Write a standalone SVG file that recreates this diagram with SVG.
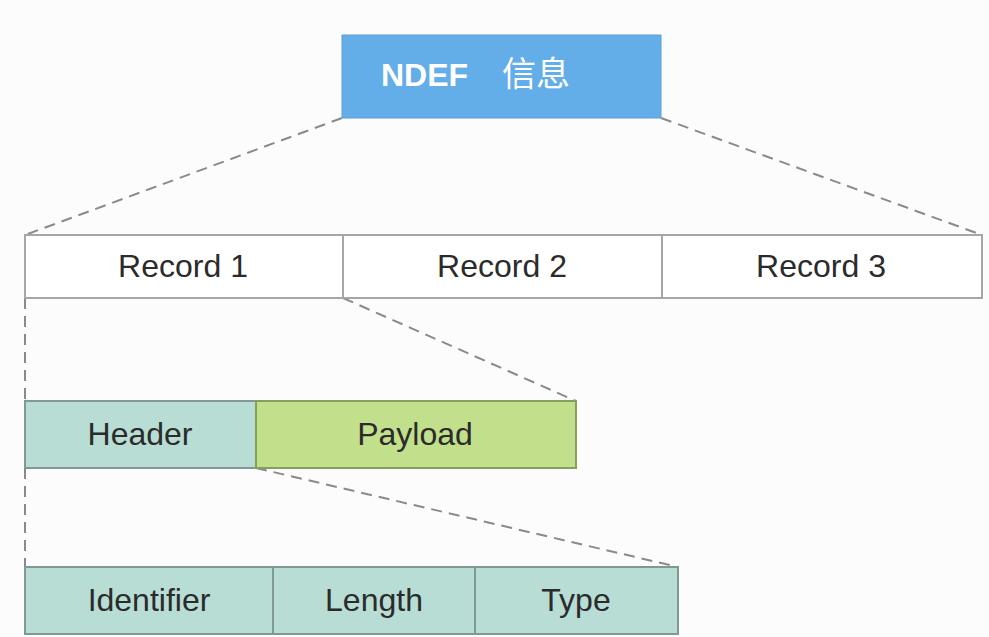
<svg xmlns="http://www.w3.org/2000/svg" width="989" height="637" viewBox="0 0 989 637">
<style>
.t{font-family:"Liberation Sans",Arial,"Noto Sans CJK SC",sans-serif;font-size:32px;fill:#2b2b2b;text-anchor:middle}
.rec{fill:#ffffff;stroke:#a6a6a6;stroke-width:2}
.teal{fill:#b7ddd5;stroke:#7f9995;stroke-width:2}
.green{fill:#c2df8c;stroke:#85a05a;stroke-width:2}
.dash{stroke:#8a8a8a;stroke-width:2;stroke-dasharray:11,7;fill:none}
</style>
<rect x="0" y="0" width="989" height="637" fill="#fcfcfc"/>
<g id="connectors">
<line class="dash" x1="342" y1="118" x2="25" y2="235"/>
<line class="dash" x1="661" y1="118" x2="982" y2="235"/>
<line class="dash" x1="25" y1="298" x2="25" y2="401"/>
<line class="dash" x1="343" y1="298" x2="576" y2="401"/>
<line class="dash" x1="25" y1="468" x2="25" y2="567"/>
<line class="dash" x1="256" y1="468" x2="678" y2="567"/>
</g>
<g id="ndef">
<rect x="342" y="35" width="319" height="83" fill="#63aee8" stroke="#5b9fd6" stroke-width="1"/>
<text x="381" y="86" style="font-family:'Liberation Sans',Arial,'Noto Sans CJK SC',sans-serif;font-size:32px;fill:#ffffff;font-weight:bold">NDEF<tspan font-weight="normal" x="502" style="font-size:34px">信息</tspan></text>
</g>
<g id="record1">
<rect class="rec" x="25" y="235" width="318" height="63"/>
<text class="t" x="183" y="277">Record 1</text>
</g>
<g id="record2">
<rect class="rec" x="343" y="235" width="319" height="63"/>
<text class="t" x="502" y="277">Record 2</text>
</g>
<g id="record3">
<rect class="rec" x="662" y="235" width="320" height="63"/>
<text class="t" x="821" y="277">Record 3</text>
</g>
<g id="header">
<rect class="teal" x="25" y="401" width="231" height="67"/>
<text class="t" x="140" y="445">Header</text>
</g>
<g id="payload">
<rect class="green" x="256" y="401" width="320" height="67"/>
<text class="t" x="415" y="445">Payload</text>
</g>
<g id="identifier">
<rect class="teal" x="25" y="567" width="248" height="67"/>
<text class="t" x="149" y="611">Identifier</text>
</g>
<g id="length">
<rect class="teal" x="273" y="567" width="202" height="67"/>
<text class="t" x="374" y="611">Length</text>
</g>
<g id="type">
<rect class="teal" x="475" y="567" width="203" height="67"/>
<text class="t" x="576" y="611">Type</text>
</g>
</svg>
